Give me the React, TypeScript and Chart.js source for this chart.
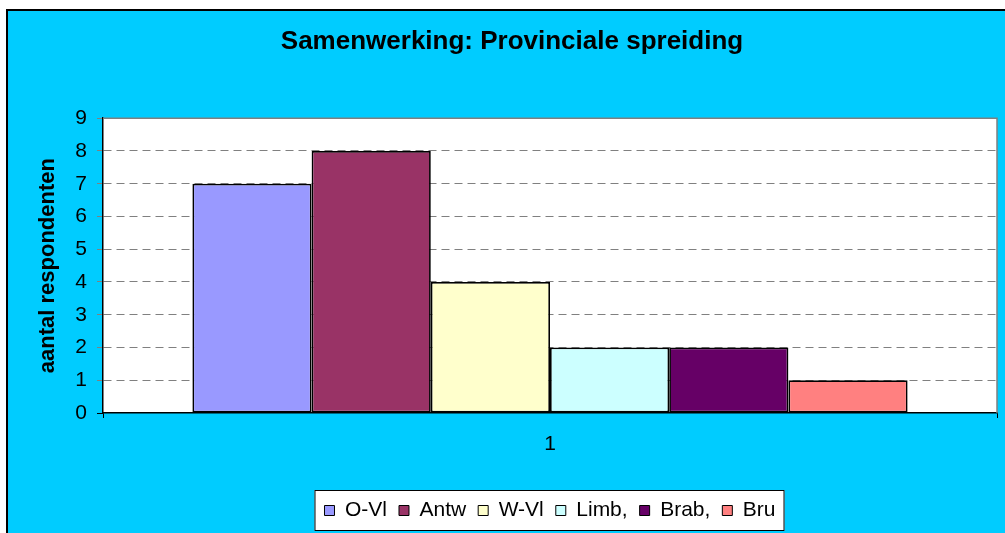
import React, { useEffect, useRef } from "react";
import { Chart, registerables } from "chart.js";

Chart.register(...registerables);

const categories = ["1"];
const seriesNames = ["O-Vl", "Antw", "W-Vl", "Limb,", "Brab,", "Bru"];
const seriesValues = [[7], [8], [4], [2], [2], [1]];
const seriesColors = ["#9999FF", "#993366", "#FFFFCC", "#CCFFFF", "#660066", "#FF8080"];
const yTicks = { min: 0, max: 9, step: 1 };
const titleText = "Samenwerking: Provinciale spreiding";
const yTitle = "aantal respondenten";

const FONT = "'Liberation Sans', Arial, Helvetica, sans-serif";

const backgroundPlugin = {
  id: "bgframe",
  beforeDraw(chart: any) {
    const { ctx, width, height, chartArea } = chart;
    ctx.save();
    ctx.fillStyle = "#FFFFFF";
    ctx.fillRect(0, 0, width, height);
    ctx.fillStyle = "#00CCFF";
    ctx.fillRect(7, 9, width - 7, height - 9);
    ctx.fillStyle = "#000000";
    ctx.fillRect(6, 9, 2, height - 9);
    ctx.fillRect(6, 9, width - 6, 2);
    ctx.fillStyle = "#FFFFFF";
    ctx.fillRect(chartArea.left, chartArea.top, chartArea.right - chartArea.left, chartArea.bottom - chartArea.top);
    const legend = chart.legend;
    if (legend && legend.legendHitBoxes && legend.legendHitBoxes.length) {
      const hb = legend.legendHitBoxes;
      const first = hb[0];
      const last = hb[hb.length - 1];
      const l = first.left - 10;
      const r = last.left + last.width + 9;
      const t = legend.top + 2;
      const b = legend.bottom;
      ctx.fillStyle = "#FFFFFF";
      ctx.fillRect(l, t, r - l, b - t);
      ctx.strokeStyle = "#000000";
      ctx.lineWidth = 1;
      ctx.strokeRect(l + 0.5, t + 0.5, r - l - 1, b - t - 1);
    }
    ctx.restore();
  },
  afterDraw(chart: any) {
    const { ctx, chartArea } = chart;
    ctx.save();
    ctx.strokeStyle = "#808080";
    ctx.lineWidth = 1.5;
    ctx.beginPath();
    ctx.moveTo(chartArea.left, chartArea.top);
    ctx.lineTo(chartArea.right, chartArea.top);
    ctx.lineTo(chartArea.right, chartArea.bottom);
    ctx.stroke();
    ctx.restore();
  },
};

export default function App() {
  const ref = useRef<HTMLCanvasElement | null>(null);

  useEffect(() => {
    document.documentElement.style.overflow = "hidden";
    document.body.style.overflow = "hidden";
    if (!ref.current) return;
    const chart = new Chart(ref.current, {
      type: "bar",
      data: {
        labels: categories,
        datasets: seriesNames.map((name, i) => ({
          label: name,
          data: seriesValues[i],
          backgroundColor: seriesColors[i],
          borderColor: "#000000",
          borderWidth: 1.75,
          borderSkipped: false,
          categoryPercentage: 0.8,
          barPercentage: 1.0,
        })),
      },
      options: {
        responsive: false,
        animation: false,
        devicePixelRatio: 1,
        layout: { padding: { left: 27, right: 8, top: 0, bottom: 2 } },
        font: { family: FONT },
        color: "#000000",
        plugins: {
          title: {
            display: true,
            text: titleText,
            color: "#000000",
            font: { family: FONT, size: 26, weight: "bold" },
            padding: { top: 26, bottom: 61 },
          },
          legend: {
            display: true,
            position: "bottom",
            fullSize: false,
            labels: {
              color: "#000000",
              font: { family: FONT, size: 21 },
              boxWidth: 10,
              boxHeight: 10,
              padding: 12,
              generateLabels: (c: any) =>
                Chart.defaults.plugins.legend.labels
                  .generateLabels(c)
                  .map((l: any) => ({ ...l, lineWidth: 1, strokeStyle: "#000000" })),
            },
          },
          tooltip: { enabled: false },
        },
        scales: {
          x: {
            type: "category",
            offset: true,
            grid: {
              display: true,
              drawOnChartArea: false,
              drawTicks: true,
              tickLength: 5,
              color: "#000000",
              tickColor: "#000000",
              offset: true,
            },
            border: { display: true, color: "#000000", width: 1.5 },
            ticks: { color: "#000000", font: { family: FONT, size: 21 }, padding: 14 },
            afterFit: (s: any) => {
              s.height = 75;
            },
          },
          y: {
            type: "linear",
            position: "left",
            min: yTicks.min,
            max: yTicks.max,
            ticks: {
              stepSize: yTicks.step,
              color: "#000000",
              font: { family: FONT, size: 21 },
              padding: 10,
            },
            grid: {
              color: (ctx: any) =>
                ctx.tick && (ctx.tick.value === yTicks.min || ctx.tick.value === yTicks.max)
                  ? "rgba(0,0,0,0)"
                  : "#808080",
              tickColor: (ctx: any) =>
                ctx.tick && ctx.tick.value === yTicks.min ? "#000000" : "#808080",
              lineWidth: 1,
              tickLength: 6,
            },
            border: { display: true, color: "#000000", width: 1.5, dash: [8, 5] },
            title: {
              display: true,
              text: yTitle,
              color: "#000000",
              font: { family: FONT, size: 22, weight: "bold" },
              padding: { top: 8, bottom: 0 },
            },
            afterFit: (s: any) => {
              s.width = 76;
            },
          },
        },
      } as any,
      plugins: [backgroundPlugin],
    });
    return () => chart.destroy();
  }, []);

  return (
    <div style={{ position: "fixed", left: 0, top: 0, width: "100vw", height: "100vh", overflow: "hidden" }}>
      <canvas ref={ref} width={1005} height={533} style={{ display: "block" }} />
    </div>
  );
}
